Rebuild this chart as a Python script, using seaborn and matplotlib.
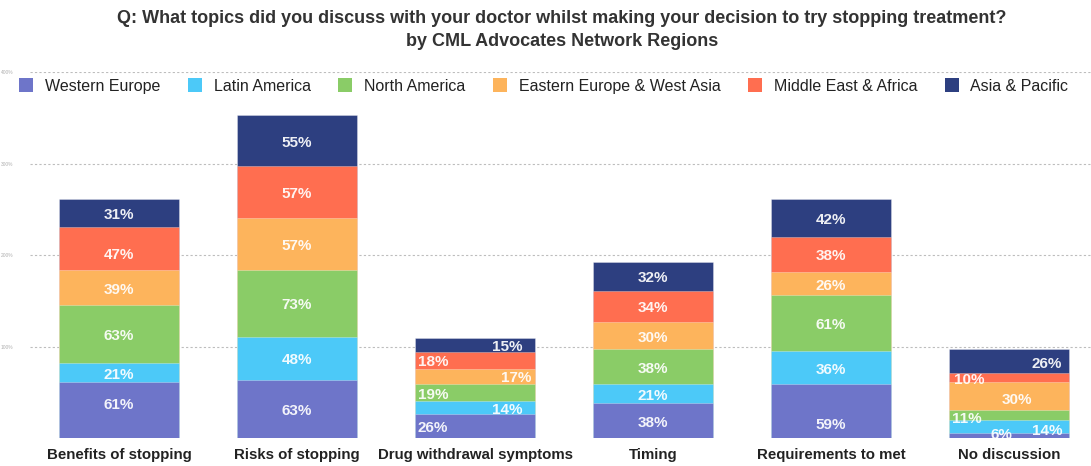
import numpy as np
import pandas as pd
import matplotlib
matplotlib.use("Agg")
import matplotlib.pyplot as plt
import seaborn as sns
from matplotlib.patches import Patch

# ---------------- data ----------------
categories = ["Benefits of stopping", "Risks of stopping", "Drug withdrawal symptoms",
              "Timing", "Requirements to met", "No discussion"]
regions = ["Western Europe", "Latin America", "North America",
           "Eastern Europe & West Asia", "Middle East & Africa", "Asia & Pacific"]
western_europe = [61, 63, 26, 38, 59, 6]
latin_america = [21, 48, 14, 21, 36, 14]
north_america = [63, 73, 19, 38, 61, 11]
eastern_europe_west_asia = [39, 57, 17, 30, 26, 30]
middle_east_africa = [47, 57, 18, 34, 38, 10]
asia_pacific = [31, 55, 15, 32, 42, 26]
y_ticks = [100, 200, 300, 400]
y_tick_labels = ["100%", "200%", "300%", "400%"]

title = ("Q: What topics did you discuss with your doctor whilst making your decision to try stopping treatment?\n"
         "by CML Advocates Network Regions")

# ---------------- style ----------------
colors = ["#6E75C9", "#4CC9F8", "#8ACC67", "#FDB45C", "#FF6E50", "#2D3F80"]

# label placement tweaks in pixels: (category index, series index) -> (dx, dy)
label_shift = {
    (2, 5): (32, 0), (2, 4): (-42, 0), (2, 3): (41, 0),
    (2, 2): (-42, 0), (2, 1): (32, 0), (2, 0): (-42, 0),
    (5, 5): (38, 1), (5, 4): (-40, 0), (5, 3): (8, 2),
    (5, 2): (-42, 2), (5, 1): (38, 3), (5, 0): (-8, -2),
    (0, 0): (0, -7), (0, 4): (0, 5), (4, 0): (0, 12),
}

sns.set_theme(style="white")
plt.rcParams["font.family"] = ["Liberation Sans", "DejaVu Sans"]

W, H = 1091, 466
fig = plt.figure(figsize=(W / 100, H / 100), dpi=100)
fig.patch.set_facecolor("white")
ax_left, ax_bottom, ax_top = 30, 438, 72
ax = fig.add_axes([ax_left / W, (H - ax_bottom) / H, (W - ax_left) / W, (ax_bottom - ax_top) / H])
ax.set_facecolor("white")

series = [western_europe, latin_america, north_america,
          eastern_europe_west_asia, middle_east_africa, asia_pacific]
values = np.array(series)
cum = values.cumsum(axis=0)

bar_width = 0.67
for i in reversed(range(len(regions))):
    df = pd.DataFrame({"category": categories, "total": cum[i]})
    sns.barplot(data=df, x="category", y="total", order=categories,
                color=colors[i], saturation=1, width=bar_width, errorbar=None,
                edgecolor=(1, 1, 1, 0.35), linewidth=0.6, ax=ax, zorder=3)

ax.set_xlim(-0.5, (W - 119) / 178)
ax.set_ylim(0, 400.5)

px_x = 1 / 178.0
px_y = 400.0 / (ax_bottom - ax_top)

for j in range(len(categories)):
    for i in range(len(regions)):
        v = values[i, j]
        mid = cum[i, j] - v / 2
        dx, dy = label_shift.get((j, i), (0, 0))
        ax.text(j + dx * px_x, mid - (dy + 2) * px_y, f"{v}%",
                ha="center", va="center", color="white", alpha=0.92,
                fontsize=11, fontweight="bold", zorder=5)

# grid
ax.set_yticks(y_ticks)
ax.set_yticklabels(y_tick_labels, fontsize=3.5, color="#b0b0b0")
ax.tick_params(axis="y", length=0, pad=12)
ax.yaxis.grid(True, linestyle=(0, (2, 2)), color="#bdbdbd", linewidth=0.8, zorder=0)
ax.xaxis.grid(False)
ax.set_axisbelow(True)
for s in ax.spines.values():
    s.set_visible(False)

ax.set_xlabel("")
ax.set_ylabel("")
ax.tick_params(axis="x", length=0, pad=15)
for lbl in ax.get_xticklabels():
    lbl.set_fontsize(10.8)
    lbl.set_fontweight("bold")
    lbl.set_color("#222222")
    lbl.set_verticalalignment("baseline")

# legend
handles = [Patch(facecolor=c, edgecolor="none") for c in colors]
leg = fig.legend(handles, regions, loc="center left", bbox_to_anchor=(19 / W, 1 - 86 / H),
                 ncol=6, frameon=False, fontsize=11.5, handlelength=0.88, handleheight=0.88,
                 handletextpad=0.74, columnspacing=1.72, borderaxespad=0, borderpad=0)
for t in leg.get_texts():
    t.set_color("#222222")

fig.text(562 / W, 1 - 30 / H, title, ha="center", va="center", fontsize=13,
         fontweight="bold", color="#333333", linespacing=1.45)

fig.savefig("out.png", dpi=100, facecolor="white")
